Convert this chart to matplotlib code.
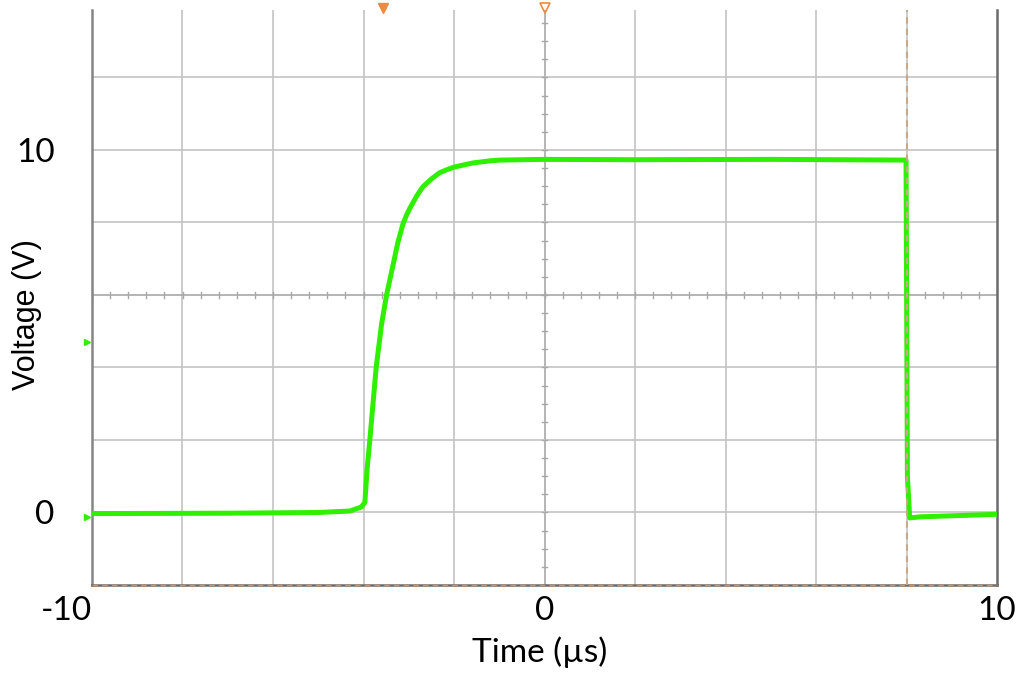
import numpy as np
import matplotlib
matplotlib.use("Agg")
import matplotlib.pyplot as plt

# trace (time in us, voltage in V)
T_US = [-10.0, -7.0, -5.0, -4.3, -4.05, -3.97, -3.92, -3.86, -3.79, -3.72,
        -3.60, -3.49, -3.36, -3.24, -3.13, -3.05, -2.98, -2.83, -2.69, -2.5,
        -2.32, -2.15, -1.99, -1.59, -1.2, -0.99, 0.0, 2.0, 5.0, 7.99,
        8.02, 8.07, 8.3, 10.0]
V_VOLTS = [-0.03, -0.02, 0.0, 0.04, 0.15, 0.28, 1.2, 2.0, 3.0, 4.0,
           5.2, 6.0, 6.75, 7.45, 7.95, 8.2, 8.38, 8.72, 8.98, 9.2,
           9.37, 9.46, 9.53, 9.64, 9.70, 9.72, 9.74, 9.73, 9.74, 9.72,
           1.0, -0.15, -0.12, -0.05]

X_TICKS = [-10, 0, 10]
X_TICK_LABELS = ["-10", "0", "10"]
Y_TICKS = [0, 10]
Y_TICK_LABELS = ["0", "10"]

CURSOR_T = 8.0          # vertical cursor
TRIG_T = -3.58          # trigger marker on top edge
CH_MARKS_V = [4.7, -0.13]  # channel markers on left edge

XMIN, XMAX = -10, 10
YMIN, YMAX = -2, 13.86

GREEN = "#2ef000"
ORANGE = "#f08a3c"
GRID = "#c4c4c4"
TICKFONT = "Lato"

fig = plt.figure(figsize=(10.21, 6.73), dpi=100)
ax = fig.add_axes([92 / 1021, 1 - 585 / 673, (997 - 92) / 1021, (585 - 10) / 673])
ax.set_xlim(XMIN, XMAX)
ax.set_ylim(YMIN, YMAX)

# scope graticule
for t in np.arange(-8, 9, 2):
    ax.axvline(t, color="#a8a8a8" if t == 0 else GRID, lw=1.2, zorder=1)
for v in np.arange(0, 13, 2):
    ax.axhline(v, color="#a8a8a8" if v == 6 else GRID, lw=1.2, zorder=1)
# minor ticks along the centre cross
for t in np.arange(-10, 10.01, 0.4):
    ax.plot([t, t], [5.93, 6.07], color="#a8a8a8", lw=1.0, zorder=1)
for v in np.arange(-2, 13.9, 0.5):
    ax.plot([-0.05, 0.05], [v, v], color="#a8a8a8", lw=1.0, zorder=1)

ax.plot(T_US, V_VOLTS, color=GREEN, lw=3.6, solid_joinstyle="round",
        solid_capstyle="butt", zorder=3)

# cursors and markers
ax.axvline(CURSOR_T, color="#c8a888", lw=1.5, ls=(0, (3, 2.5)), zorder=4)
ax.axhline(YMIN, color=ORANGE, lw=1.0, ls=(0, (4, 3)), zorder=5, clip_on=False)
ax.plot([TRIG_T], [YMAX + 0.05], marker="v", ms=7, color=ORANGE, clip_on=False, zorder=6)
ax.plot([0], [YMAX + 0.05], marker="v", ms=7, mfc="none", mec=ORANGE, mew=1.2,
        clip_on=False, zorder=6)
ax.plot([XMIN - 0.1] * len(CH_MARKS_V), CH_MARKS_V, ls="none", marker=">", ms=5,
        color=GREEN, clip_on=False, zorder=6)

ax.spines["top"].set_visible(False)
ax.spines["left"].set_color("#858585")
ax.spines["left"].set_linewidth(1.8)
ax.spines["right"].set_color("#6a6a70")
ax.spines["right"].set_linewidth(1.8)
ax.spines["bottom"].set_color("#6a6a6a")
ax.spines["bottom"].set_linewidth(1.8)

ax.set_xticks(X_TICKS)
ax.set_xticklabels(X_TICK_LABELS, fontsize=24, family=TICKFONT)
ax.set_yticks(Y_TICKS)
ax.set_yticklabels(Y_TICK_LABELS, fontsize=24, family=TICKFONT)
ax.tick_params(length=0)
ax.tick_params(axis="x", pad=8)
ax.tick_params(axis="y", pad=27)
ax.get_xticklabels()[0].set_ha("right")

fig.text(540 / 1021, 1 - 652 / 673, "Time (\u00b5s)", fontsize=24, family=TICKFONT,
         ha="center", va="center")
fig.text(27 / 1021, 1 - 315 / 673, "Voltage (V)", fontsize=22, family="Liberation Sans",
         rotation=90, ha="center", va="center")

fig.savefig("out.png", dpi=100)
